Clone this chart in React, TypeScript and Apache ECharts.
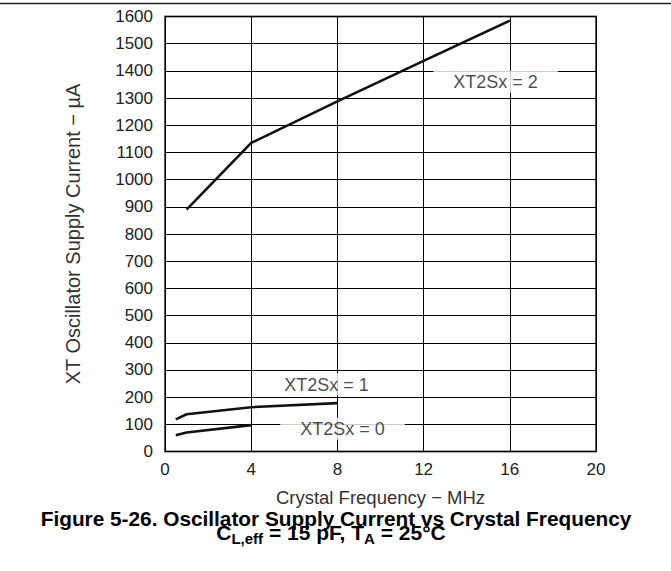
import React, { useEffect, useRef } from "react";
import * as echarts from "echarts";

// Crystal frequency (MHz) and supply current (µA) per XT2Sx setting
const freqXT2Sx2 = [1, 4, 8, 12, 16];
const currXT2Sx2 = [890, 1135, 1288, 1437, 1585];
const freqXT2Sx1 = [0.5, 1, 4, 8];
const currXT2Sx1 = [118, 137, 163, 178];
const freqXT2Sx0 = [0.5, 1, 4];
const currXT2Sx0 = [60, 70, 97];

const curveLabels = ["XT2Sx = 2", "XT2Sx = 1", "XT2Sx = 0"];
const curveLabelX = [15.34, 7.49, 8.24];
const curveLabelY = [1360, 246, 84];

const xTicks = [0, 4, 8, 12, 16, 20];
const yMin = 0;
const yMax = 1600;
const yStep = 100;

const xTitle = "Crystal Frequency \u2212 MHz";
const yTitle = "XT Oscillator Supply Current \u2212 \u00b5A";
const figTitle = "Figure 5-26. Oscillator Supply Current vs Crystal Frequency";
// Condition line: text pieces, true = subscript
const condTexts = ["C", "L,eff", " = 15 pF, T", "A", " = 25\u00b0C"];
const condIsSub = [false, true, false, true, false];

const FONT = "'Liberation Sans', Arial, Helvetica, sans-serif";

export default function App() {
  const ref = useRef<HTMLDivElement>(null);
  useEffect(() => {
    if (!ref.current) return;
    const chart = echarts.init(ref.current, null, { renderer: "svg" });
    const pair = (xs: number[], ys: number[]) => xs.map((x, i) => [x, ys[i]]);
    const lineStyle = { color: "#111", width: 2.6 };
    const mkLine = (name: string, xs: number[], ys: number[]) => ({
      name,
      type: "line",
      data: pair(xs, ys),
      showSymbol: false,
      symbol: "none",
      lineStyle,
      z: 3,
    });

    // layout of the subscripted condition line
    const mainSize = 21;
    const subSize = 15;
    const ctx = document.createElement("canvas").getContext("2d");
    const measure = (t: string, size: number) => {
      if (!ctx) return t.length * size * 0.55;
      ctx.font = `bold ${size}px ${FONT}`;
      return ctx.measureText(t).width;
    };
    const widths = condTexts.map((t, i) => measure(t, condIsSub[i] ? subSize : mainSize));
    const total = widths.reduce((a, b) => a + b, 0);
    let cx = 331 - total / 2;
    const condGraphics = condTexts.map((t, i) => {
      const g = {
        type: "text",
        x: cx,
        y: condIsSub[i] ? 538.5 : 532,
        style: {
          text: t,
          fontSize: condIsSub[i] ? subSize : mainSize,
          fontWeight: "bold",
          fontFamily: FONT,
          fill: "#000",
          textAlign: "left",
          textVerticalAlign: "middle",
        },
      };
      cx += widths[i];
      return g;
    });

    chart.setOption({
      animation: false,
      backgroundColor: "#fff",
      textStyle: { fontFamily: FONT },
      grid: {
        left: 165,
        top: 16.5,
        width: 431,
        height: 435,
        show: true,
        borderColor: "#555",
        borderWidth: 2,
        backgroundColor: "transparent",
      },
      xAxis: {
        type: "value",
        min: xTicks[0],
        max: xTicks[xTicks.length - 1],
        interval: 4,
        name: xTitle,
        nameLocation: "middle",
        nameGap: 36,
        nameTextStyle: { fontSize: 18.5, color: "#333", fontFamily: FONT },
        axisLine: { show: false },
        axisTick: { show: false },
        axisLabel: { fontSize: 17, color: "#222", margin: 9, fontFamily: FONT },
        splitLine: { show: true, lineStyle: { color: "#000", width: 1 } },
      },
      yAxis: {
        type: "value",
        min: yMin,
        max: yMax,
        interval: yStep,
        name: yTitle,
        nameLocation: "middle",
        nameGap: 82,
        nameRotate: 90,
        nameTextStyle: { fontSize: 20, color: "#333", fontFamily: FONT },
        axisLine: { show: false },
        axisTick: { show: false },
        axisLabel: {
          fontSize: 17,
          color: "#222",
          margin: 12,
          fontFamily: FONT,
          formatter: (v: number) => String(v),
        },
        splitLine: { show: true, lineStyle: { color: "#000", width: 1 } },
      },
      series: [
        mkLine("XT2Sx = 2", freqXT2Sx2, currXT2Sx2),
        mkLine("XT2Sx = 1", freqXT2Sx1, currXT2Sx1),
        mkLine("XT2Sx = 0", freqXT2Sx0, currXT2Sx0),
        {
          name: "labels",
          type: "scatter",
          symbolSize: 0,
          z: 4,
          data: curveLabels.map((t, i) => ({ value: [curveLabelX[i], curveLabelY[i]], name: t })),
          label: {
            show: true,
            position: "inside",
            formatter: (p: any) => p.name,
            fontSize: 18,
            color: "#1a1a1a",
            fontFamily: FONT,
            backgroundColor: "#fff",
            padding: [0, 20, 4, 20],
          },
          emphasis: { disabled: true },
          silent: true,
        },
      ],
      graphic: [
        {
          type: "line",
          shape: { x1: 0, y1: 3.5, x2: 671, y2: 3.5 },
          style: { stroke: "#222", lineWidth: 1.5 },
        },
        {
          type: "text",
          x: 336,
          y: 518,
          style: {
            text: figTitle,
            fontSize: 20.8,
            fontWeight: "bold",
            fontFamily: FONT,
            fill: "#000",
            textAlign: "center",
            textVerticalAlign: "middle",
          },
        },
        ...condGraphics,
      ],
    });
    return () => chart.dispose();
  }, []);
  return (
    <div
      ref={ref}
      style={{ position: "absolute", left: 0, top: 0, width: 671, height: 571 }}
    />
  );
}
